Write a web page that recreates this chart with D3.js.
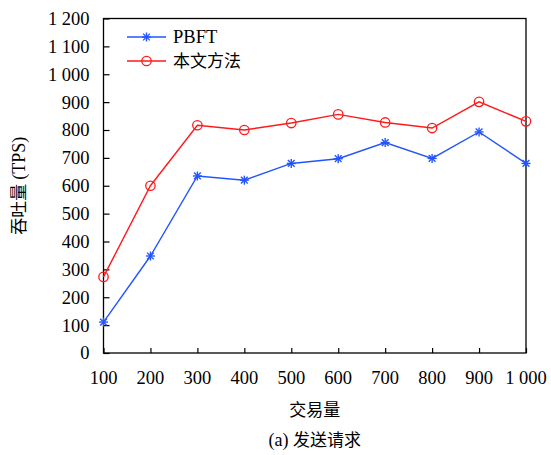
<!DOCTYPE html>
<html>
<head>
<meta charset="utf-8">
<script src="https://cdn.jsdelivr.net/npm/d3@7"></script>
<style>
  body { margin: 0; background: #fff; }
  text { font-family: "Liberation Serif", "Times New Roman", Times, serif; }
  .cjk { font-family: "Noto Sans CJK SC", sans-serif; }
</style>
</head>
<body>
<svg id="chart" width="551" height="455"></svg>
<script>
// data
const txCounts = [100, 200, 300, 400, 500, 600, 700, 800, 900, 1000];
const pbftTps = [111, 348, 635, 620, 680, 697, 755, 698, 793, 680];
const oursTps = [273, 600, 817, 800, 825, 856, 827, 807, 901, 831];
const yTicks = [0, 100, 200, 300, 400, 500, 600, 700, 800, 900, 1000, 1100, 1200];
const seriesNames = ['PBFT', '本文方法'];

const svg = d3.select('#chart');
const margin = {left: 103.5, right: 25, top: 18.5, bottom: 102};
const W = 551, H = 455;

const x = d3.scaleLinear().domain([100, 1000]).range([margin.left, W - margin.right]);
const y = d3.scaleLinear().domain([0, 1200]).range([H - margin.bottom, margin.top]);

function fmt(v) {
  // thousands separated by a space, as in the original
  return v >= 1000 ? Math.floor(v / 1000) + ' ' + d3.format('03d')(v % 1000) : String(v);
}

// frame
svg.append('rect')
  .attr('x', x(100)).attr('y', y(1200))
  .attr('width', x(1000) - x(100)).attr('height', y(0) - y(1200))
  .attr('fill', 'none').attr('stroke', '#000').attr('stroke-width', 1.3);

// y axis, ticks point inward
const yAxis = svg.append('g')
  .attr('transform', `translate(${x(100)},0)`)
  .call(d3.axisRight(y).tickValues(yTicks).tickSize(6).tickFormat(''));
yAxis.select('.domain').remove();
yAxis.selectAll('line').attr('stroke', '#000').attr('stroke-width', 1.2);
svg.append('g').selectAll('text')
  .data(yTicks).join('text')
  .attr('x', x(100) - 14)
  .attr('y', d => y(d))
  .attr('dy', '0.35em')
  .attr('text-anchor', 'end')
  .style('font-size', '18.5px')
  .text(fmt);

// x axis, ticks point inward
const xAxis = svg.append('g')
  .attr('transform', `translate(0,${y(0)})`)
  .call(d3.axisTop(x).tickValues(txCounts).tickSize(5).tickFormat(''));
xAxis.select('.domain').remove();
xAxis.selectAll('line').attr('stroke', '#000').attr('stroke-width', 1.2);
svg.append('g').selectAll('text')
  .data(txCounts).join('text')
  .attr('x', d => x(d))
  .attr('y', y(0) + 31)
  .attr('text-anchor', 'middle')
  .style('font-size', '18.5px')
  .text(fmt);

// axis titles
svg.append('text')
  .attr('class', 'cjk')
  .attr('x', (x(100) + x(1000)) / 2)
  .attr('y', 416)
  .attr('text-anchor', 'middle')
  .style('font-size', '17px')
  .text('交易量');

const yt = svg.append('text')
  .attr('transform', `translate(25,${(y(0) + y(1200)) / 2}) rotate(-90)`)
  .attr('text-anchor', 'middle')
  .style('font-size', '18px');
yt.append('tspan').attr('class', 'cjk').style('font-size', '17px').text('吞吐量 ');
yt.append('tspan').text('(TPS)');

const cap = svg.append('text')
  .attr('x', (x(100) + x(1000)) / 2)
  .attr('y', 446)
  .attr('text-anchor', 'middle')
  .style('font-size', '18px');
cap.append('tspan').text('(a) ');
cap.append('tspan').attr('class', 'cjk').style('font-size', '17px').text('发送请求');

// series
const blue = '#2355ff', red = '#ff1a1a';
const line = d3.line().x((d, i) => x(txCounts[i])).y(d => y(d));

svg.append('path').datum(pbftTps)
  .attr('d', line).attr('fill', 'none').attr('stroke', blue).attr('stroke-width', 1.4);
svg.append('path').datum(oursTps)
  .attr('d', line).attr('fill', 'none').attr('stroke', red).attr('stroke-width', 1.4);

function star(g, cx, cy, r, color) {
  const s = g.append('g').attr('transform', `translate(${cx},${cy})`)
    .attr('stroke', color).attr('stroke-width', 1.4);
  s.append('line').attr('x1', -r).attr('x2', r).attr('y1', 0).attr('y2', 0);
  s.append('line').attr('x1', 0).attr('x2', 0).attr('y1', -r).attr('y2', r);
  const d = r * 0.75;
  s.append('line').attr('x1', -d).attr('x2', d).attr('y1', -d).attr('y2', d);
  s.append('line').attr('x1', -d).attr('x2', d).attr('y1', d).attr('y2', -d);
}

const marks = svg.append('g');
pbftTps.forEach((v, i) => star(marks, x(txCounts[i]), y(v), 4.5, blue));
marks.selectAll('circle')
  .data(oursTps).join('circle')
  .attr('cx', (d, i) => x(txCounts[i]))
  .attr('cy', d => y(d))
  .attr('r', 4.7)
  .attr('fill', 'none').attr('stroke', red).attr('stroke-width', 1.3);

// legend
const leg = svg.append('g');
[blue, red].forEach((c, i) => {
  const ly = 37 + i * 24;
  leg.append('line').attr('x1', 127).attr('x2', 166).attr('y1', ly).attr('y2', ly)
    .attr('stroke', c).attr('stroke-width', 1.4);
  if (i === 0) star(leg, 146.5, ly, 4.5, c);
  else leg.append('circle').attr('cx', 146.5).attr('cy', ly).attr('r', 4.7)
    .attr('fill', 'none').attr('stroke', c).attr('stroke-width', 1.3);
  leg.append('text')
    .attr('class', i === 1 ? 'cjk' : null)
    .attr('x', 173).attr('y', ly).attr('dy', '0.35em')
    .style('font-size', i === 1 ? '17px' : '18.5px')
    .text(seriesNames[i]);
});
</script>
</body>
</html>
